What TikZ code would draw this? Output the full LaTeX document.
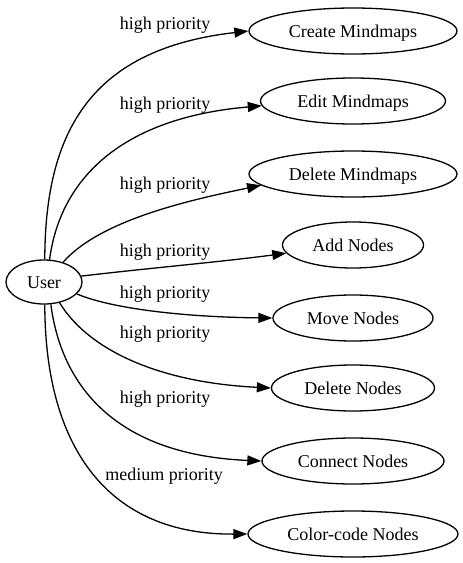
\documentclass[tikz,border=0pt]{standalone}
\usepackage{fontspec}
\setmainfont{Liberation Serif}
\usetikzlibrary{shapes.geometric,arrows.meta}
\begin{document}
\begin{tikzpicture}[x=1pt,y=-1pt,
  every node/.style={font=\fontsize{18}{21}\selectfont},
  oval/.style={draw,ellipse,line width=1.3pt,inner sep=0pt,minimum height=46pt,text height=14pt,text depth=2pt},
  conn/.style={line width=1.3pt,-{Triangle[length=14pt,width=10pt]}},
  lbl/.style={inner sep=0pt}]
\useasboundingbox (0,0) rectangle (463,563);
\node[oval,minimum width=76pt,minimum height=44pt] (user) at (44,282) {User};
\node[oval,minimum width=208pt] (create) at (353,31) {Create Mindmaps};
\node[oval,minimum width=185pt] (edit) at (353,101) {Edit Mindmaps};
\node[oval,minimum width=208pt] (delmm) at (353,174) {Delete Mindmaps};
\node[oval,minimum width=141pt] (add) at (353,245) {Add Nodes};
\node[oval,minimum width=160pt] (move) at (353,318) {Move Nodes};
\node[oval,minimum width=163pt] (delnodes) at (353,388) {Delete Nodes};
\node[oval,minimum width=182pt] (connect) at (353,461) {Connect Nodes};
\node[oval,minimum width=210pt] (color) at (353,534) {Color-code Nodes};

\draw[conn] (user.88) .. controls (45,130) and (92,49) .. (create.west);
\draw[conn] (user.76) .. controls (60,180) and (120,118) .. (edit.183);
\draw[conn] (user.46) .. controls (100,220) and (190,200) .. (delmm.187);
\draw[conn] (user.9) .. controls (150,268) and (220,262) .. (add.187);
\draw[conn] (user.-20) .. controls (110,308) and (180,317) .. (move.west);
\draw[conn] (user.-53) .. controls (85,345) and (150,382) .. (delnodes.west);
\draw[conn] (user.-73) .. controls (62,390) and (120,455) .. (connect.west);
\draw[conn] (user.-88) .. controls (45,450) and (110,535) .. (color.west);

\node[lbl] (l1) at (165,25.5) {high priority};
\node[lbl] (l2) at (165,105.5) {high priority};
\node[lbl] (l3) at (165,185.5) {high priority};
\node[lbl] (l4) at (165,252.5) {high priority};
\node[lbl] (l5) at (165,294.5) {high priority};
\node[lbl] (l6) at (165,334.5) {high priority};
\node[lbl] (l7) at (165,399.5) {high priority};
\node[lbl] (l8) at (164,476.5) {medium priority};
\end{tikzpicture}
\end{document}
